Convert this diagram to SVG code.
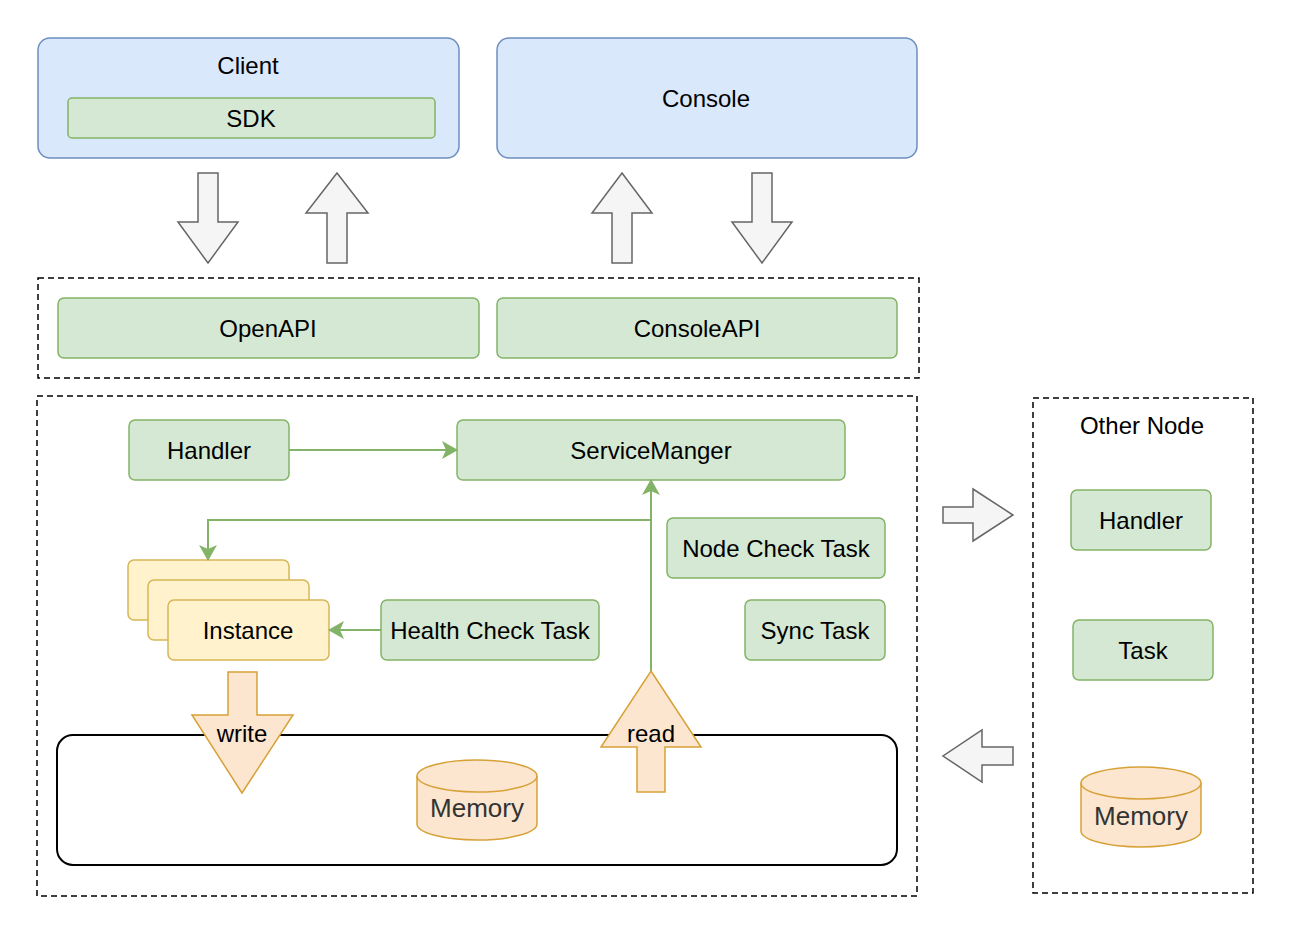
<svg xmlns="http://www.w3.org/2000/svg" width="1292" height="932" viewBox="0 0 1292 932">
<defs>
<style>
text{font-family:"Liberation Sans",Arial,Helvetica,sans-serif;font-size:24px;fill:#000;text-anchor:middle;dominant-baseline:central}
.blue{fill:#dae8fc;stroke:#6c8ebf;stroke-width:1.5}
.green{fill:#d5e8d4;stroke:#82b366;stroke-width:1.5}
.yellow{fill:#fff2cc;stroke:#d6b656;stroke-width:1.5}
.orange{fill:#fce6d0;stroke:#d6a136;stroke-width:1.5}
.gray{fill:#f5f5f5;stroke:#666666;stroke-width:1.5}
.dash{fill:none;stroke:#000;stroke-width:1.5;stroke-dasharray:6 4}
.conn{fill:none;stroke:#82b366;stroke-width:2}
.mem{fill:#333333;font-size:26px}
</style>
<marker id="ah" viewBox="0 0 16 18" refX="15" refY="9" markerWidth="16" markerHeight="18" markerUnits="userSpaceOnUse" orient="auto">
<path d="M0,0 L16,9 L0,18 L4,9 Z" fill="#82b366"/>
</marker>
</defs>
<rect width="1292" height="932" fill="#fff"/>

<g id="client">
<rect class="blue" x="38" y="38" width="421" height="120" rx="12"/>
<text x="248" y="65">Client</text>
</g>
<g id="sdk">
<rect class="green" x="68" y="98" width="367" height="40" rx="4"/>
<text x="251" y="118">SDK</text>
</g>
<g id="console">
<rect class="blue" x="497" y="38" width="420" height="120" rx="12"/>
<text x="706" y="98">Console</text>
</g>

<g id="arrows-top">
<path class="gray" d="M198,173 H218 V222 H238 L208,263 L178,222 H198 Z"/>
<path class="gray" d="M337,173 L368,213 H347 V263 H327 V213 H306 Z"/>
<path class="gray" d="M622,173 L652,213 H632 V263 H612 V213 H592 Z"/>
<path class="gray" d="M752,173 H772 V222 H792 L762,263 L732,222 H752 Z"/>
</g>

<g id="api-layer">
<rect class="dash" x="38" y="278" width="881" height="100"/>
</g>
<g id="openapi">
<rect class="green" x="58" y="298" width="421" height="60" rx="6"/>
<text x="268" y="328">OpenAPI</text>
</g>
<g id="consoleapi">
<rect class="green" x="497" y="298" width="400" height="60" rx="6"/>
<text x="697" y="328">ConsoleAPI</text>
</g>

<g id="server">
<rect class="dash" x="37" y="396" width="880" height="500"/>
</g>
<g id="memory-area">
<rect x="57" y="735" width="840" height="130" rx="16" fill="#fff" stroke="#000" stroke-width="2"/>
</g>
<g id="handler">
<rect class="green" x="129" y="420" width="160" height="60" rx="6"/>
<text x="209" y="450">Handler</text>
</g>
<g id="servicemanger">
<rect class="green" x="457" y="420" width="388" height="60" rx="6"/>
<text x="651" y="450">ServiceManger</text>
</g>
<g id="nodecheck">
<rect class="green" x="667" y="518" width="218" height="60" rx="6"/>
<text x="776" y="548">Node Check Task</text>
</g>
<g id="synctask">
<rect class="green" x="745" y="600" width="140" height="60" rx="6"/>
<text x="815" y="630">Sync Task</text>
</g>
<g id="healthcheck">
<rect class="green" x="381" y="600" width="218" height="60" rx="6"/>
<text x="490" y="630">Health Check Task</text>
</g>
<g id="instance">
<rect class="yellow" x="128" y="560" width="161" height="60" rx="6"/>
<rect class="yellow" x="148" y="580" width="161" height="60" rx="6"/>
<rect class="yellow" x="168" y="600" width="161" height="60" rx="6"/>
<text x="248" y="630">Instance</text>
</g>
<g id="memory">
<path class="orange" d="M417,776 A60,16 0 0 1 537,776 V824 A60,16 0 0 1 417,824 Z"/>
<path class="orange" d="M417,776 A60,16 0 0 0 537,776" fill="none"/>
<text class="mem" x="477" y="808">Memory</text>
</g>

<g id="connectors">
<line class="conn" x1="289" y1="450" x2="457" y2="450" marker-end="url(#ah)"/>
<line class="conn" x1="651" y1="671" x2="651" y2="480" marker-end="url(#ah)"/>
<polyline class="conn" points="651,520 208,520 208,560" marker-end="url(#ah)"/>
<line class="conn" x1="381" y1="630" x2="329" y2="630" marker-end="url(#ah)"/>
</g>

<g id="write">
<path class="orange" d="M228,672 H257 V715 H293 L242,793 L192,715 H228 Z"/>
<text x="242" y="733">write</text>
</g>
<g id="read">
<path class="orange" d="M651,671 L701,747 H665 V792 H637 V747 H601 Z"/>
<text x="651" y="733">read</text>
</g>

<g id="arrows-side">
<path class="gray" d="M943,507 H973 V489 L1013,515 L973,541 V523 H943 Z"/>
<path class="gray" d="M1013,747 H982 V730 L943,756 L982,782 V765 H1013 Z"/>
</g>

<g id="othernode">
<rect class="dash" x="1033" y="398" width="220" height="495"/>
<text x="1142" y="425">Other Node</text>
</g>
<g id="other-handler">
<rect class="green" x="1071" y="490" width="140" height="60" rx="6"/>
<text x="1141" y="520">Handler</text>
</g>
<g id="other-task">
<rect class="green" x="1073" y="620" width="140" height="60" rx="6"/>
<text x="1143" y="650">Task</text>
</g>
<g id="other-memory">
<path class="orange" d="M1081,783 A60,16 0 0 1 1201,783 V831 A60,16 0 0 1 1081,831 Z"/>
<path class="orange" d="M1081,783 A60,16 0 0 0 1201,783" fill="none"/>
<text class="mem" x="1141" y="816">Memory</text>
</g>
</svg>
